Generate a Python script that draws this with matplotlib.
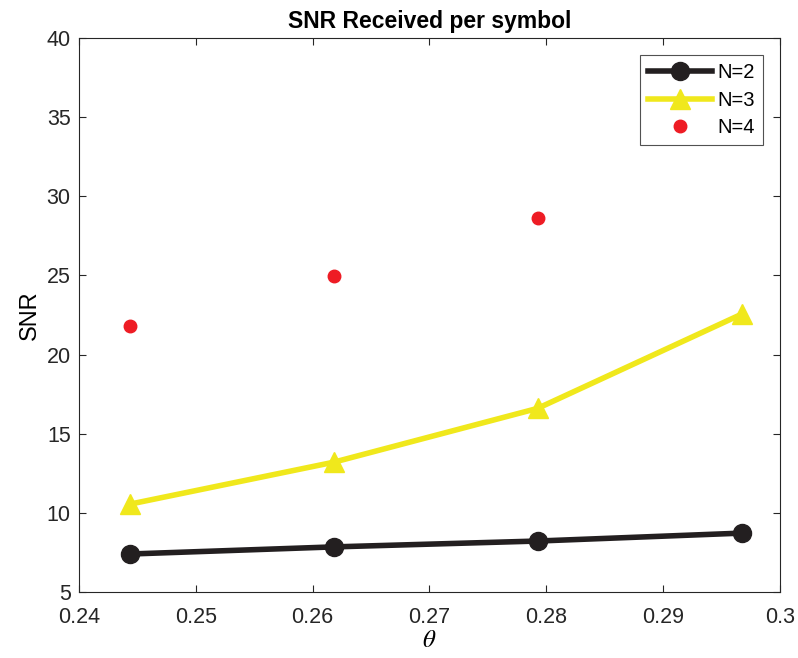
import numpy as np
import matplotlib
matplotlib.use("Agg")
import matplotlib.pyplot as plt

# Angles (rad) and received SNR per symbol
theta = [0.24435, 0.26180, 0.27925, 0.29671]
snr_n2 = [7.4, 7.85, 8.22, 8.72]
snr_n3 = [10.55, 13.2, 16.6, 22.55]
theta_n4 = [0.24435, 0.26180, 0.27925]
snr_n4 = [21.8, 24.95, 28.6]

plt.rcParams['font.family'] = ['Liberation Sans', 'DejaVu Sans']
plt.rcParams['mathtext.fontset'] = 'stix'

fig = plt.figure(figsize=(7.98, 6.58), dpi=100)
ax = fig.add_axes([0.099, 0.1003, 0.8784, 0.8419])

ax.plot(theta, snr_n2, color='#231f20', lw=4, marker='o', ms=13,
        mfc='#231f20', mec='#231f20', label='N=2')
ax.plot(theta, snr_n3, color='#f0e81c', lw=4, marker='^', ms=15,
        mfc='#f0e81c', mec='#f0e81c', label='N=3')
ax.plot(theta_n4, snr_n4, ls='none', color='#ee1c24', marker='o', ms=9,
        label='N=4')

ax.set_xlim(0.24, 0.30)
ax.set_ylim(5, 40)
ax.set_xticks(np.arange(0.24, 0.3001, 0.01))
ax.set_xticklabels(['0.24', '0.25', '0.26', '0.27', '0.28', '0.29', '0.3'])
ax.set_yticks(np.arange(5, 41, 5))

ax.tick_params(direction='in', length=5, width=0.8, labelsize=15.5,
               top=True, right=True, colors='#262626')
ax.tick_params(axis='x', pad=11)
ax.tick_params(axis='y', pad=6)
for s in ax.spines.values():
    s.set_color('#262626')
    s.set_linewidth(0.8)

ax.set_title('SNR Received per symbol', fontsize=16.5, fontweight='bold', pad=7)
ax.set_ylabel('SNR', fontsize=17, labelpad=4)
ax.set_xlabel(r'$\theta$', fontsize=18, labelpad=0)

leg = ax.legend(loc='upper right', fontsize=14.5, frameon=True, fancybox=False,
                edgecolor='#262626', handlelength=3.2, borderaxespad=0.85,
                labelspacing=0.42, handletextpad=0.25, borderpad=0.4)
leg.get_frame().set_linewidth(0.8)

fig.savefig('out.png', dpi=100)
